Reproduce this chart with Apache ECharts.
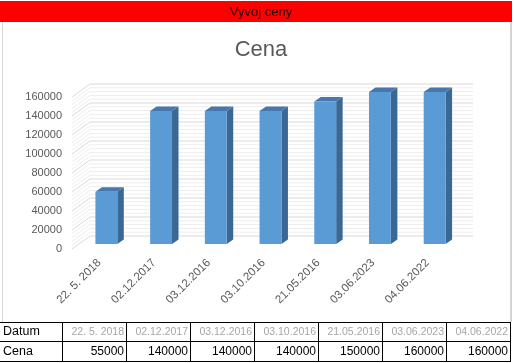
<!DOCTYPE html>
<html>
<head>
<meta charset="utf-8">
<script src="https://cdn.jsdelivr.net/npm/echarts@6/dist/echarts.min.js"></script>
<style>
html,body{margin:0;padding:0;width:514px;height:363px;overflow:hidden;background:#fff;font-family:"Liberation Sans",Arial,sans-serif;}
#chart{position:absolute;left:0;top:0;width:514px;height:363px;}
.abs{position:absolute;}
#band{left:0;top:1px;width:512px;height:21px;background:#ff0000;z-index:5;}
#bandText{left:0;top:1px;width:522px;height:21px;line-height:21px;text-align:center;font-size:13px;color:#2a0000;z-index:6;}
.hl{height:1px;background:#000;z-index:6;}
.vl{width:1px;background:#000;z-index:6;}
.cell{z-index:7;height:19px;line-height:19px;white-space:nowrap;overflow:hidden;}
</style>
</head>
<body>
<div id="chart"></div>
<div id="band" class="abs"></div>
<div id="bandText" class="abs">Vyvoj ceny</div>
<div id="table"></div>
<script>
// ---- data ----
var categories = ["22. 5. 2018", "02.12.2017", "03.12.2016", "03.10.2016", "21.05.2016", "03.06.2023", "04.06.2022"];
var prices = [55000, 140000, 140000, 140000, 150000, 160000, 160000];
var yTicks = [0, 20000, 40000, 60000, 80000, 100000, 120000, 140000, 160000];
var rowLabels = ["Datum", "Cena"];
var chartTitle = "Cena";

// ---- table (spreadsheet cells) ----
(function(){
  var t = document.getElementById('table');
  var colX = [0, 62, 126, 190, 254, 318, 382, 446, 510];
  var rowY = [322, 341, 361];
  var html = '';
  rowY.forEach(function(y){ html += '<div class="abs hl" style="left:0;top:'+y+'px;width:511px"></div>'; });
  colX.slice(1).forEach(function(x){ html += '<div class="abs vl" style="left:'+x+'px;top:322px;height:40px"></div>'; });
  html += '<div class="abs" style="left:2px;top:22px;width:1px;height:300px;background:#d9d9d9;z-index:4"></div>';
  html += '<div class="abs" style="left:510px;top:22px;width:2px;height:300px;background:#d4d4d4;z-index:4"></div>';
  html += '<div class="abs cell" style="left:3px;top:322px;width:58px;font-size:12.5px;color:#000">'+rowLabels[0]+'</div>';
  html += '<div class="abs cell" style="left:3px;top:341px;width:58px;font-size:12.5px;color:#000;height:20px;line-height:20px">'+rowLabels[1]+'</div>';
  for (var i=0;i<categories.length;i++){
    var x0 = colX[i+1]+1, w = colX[i+2]-colX[i+1]-3;
    html += '<div class="abs cell" style="left:'+x0+'px;top:322px;width:'+w+'px;text-align:right;font-size:10.5px;color:#a6a6a6">'+categories[i]+'</div>';
    html += '<div class="abs cell" style="left:'+x0+'px;top:341px;width:'+w+'px;text-align:right;font-size:12px;color:#000;height:20px;line-height:20px">'+prices[i]+'</div>';
  }
  t.innerHTML = html;
})();

// ---- chart ----
var chart = echarts.init(document.getElementById('chart'), null, {renderer:'canvas'});
var WALL = [18, -13];
var BF = [7, -5];
var BB = [13.5, -9.5];
var minorTicks = [];
for (var k=0;k<yTicks.length-1;k++){
  var step = (yTicks[k+1]-yTicks[k])/5;
  for (var m=1;m<5;m++) minorTicks.push(yTicks[k]+step*m);
}
var gridData = yTicks.map(function(v){return [0, v, 1];}).concat(minorTicks.map(function(v){return [0, v, 0];}));

function renderGrid(params, api){
  var v = api.value(1), major = api.value(2);
  var band = api.size([1,0])[0];
  var pl = api.coord([0, v]), pr = api.coord([categories.length-1, v]);
  var xl = pl[0]-band/2, xr = pr[0]+band/2, y = pl[1];
  return {
    type:'polyline',
    shape:{points:[[xl, y],[xl+WALL[0], y+WALL[1]],[xr+WALL[0], y+WALL[1]]]},
    style:{stroke: major ? '#d9d9d9' : '#eeeeee', lineWidth:1, fill:null},
    silent:true
  };
}
function renderBar(params, api){
  var i = api.value(0), v = api.value(1);
  var band = api.size([1,0])[0];
  var bw = band*0.4;
  var p0 = api.coord([i, 0]), p1 = api.coord([i, v]);
  var xl = p0[0]-bw/2, xr = p0[0]+bw/2, yb = p0[1], yt = p1[1];
  return {
    type:'group',
    children:[
      {type:'polygon', shape:{points:[[xr+BF[0], yt+BF[1]],[xr+BB[0], yt+BB[1]],[xr+BB[0], yb+BB[1]],[xr+BF[0], yb+BF[1]]]}, style:{fill:'#3b6795'}},
      {type:'polygon', shape:{points:[[xl+BF[0], yt+BF[1]],[xl+BB[0], yt+BB[1]],[xr+BB[0], yt+BB[1]],[xr+BF[0], yt+BF[1]]]}, style:{fill:'#4677ad'}},
      {type:'rect', shape:{x:xl+BF[0], y:yt+BF[1], width:bw, height:yb-yt}, style:{fill:'#5b9bd5'}}
    ]
  };
}

chart.setOption({
  backgroundColor:'#ffffff',
  animation:false,
  title:{
    text: chartTitle, left: 256, top: 34, textAlign:'center',
    textStyle:{fontFamily:'Liberation Sans', fontSize:22, fontWeight:'normal', color:'#595959'}
  },
  grid:{left:72, right:59, top:97, bottom:114},
  xAxis:{
    type:'category', data: categories,
    axisLine:{show:false}, axisTick:{show:false}, splitLine:{show:false},
    axisLabel:{rotate:45, margin:12, fontSize:11.5, fontFamily:'Liberation Sans', color:'#595959', interval:0}
  },
  yAxis:{
    type:'value', min: yTicks[0], max: yTicks[yTicks.length-1], interval: yTicks[1]-yTicks[0],
    axisLine:{show:false}, axisTick:{show:false}, splitLine:{show:false},
    axisLabel:{margin:10, fontSize:11, fontFamily:'Liberation Sans', color:'#595959', formatter:function(v){return String(v);}}
  },
  series:[
    {type:'custom', renderItem: renderGrid, data: gridData, z:1, silent:true, encode:{x:0,y:1}},
    {type:'custom', renderItem: renderBar, data: prices.map(function(v,i){return [i, v];}), z:2, encode:{x:0,y:1}}
  ]
});
</script>
</body>
</html>
